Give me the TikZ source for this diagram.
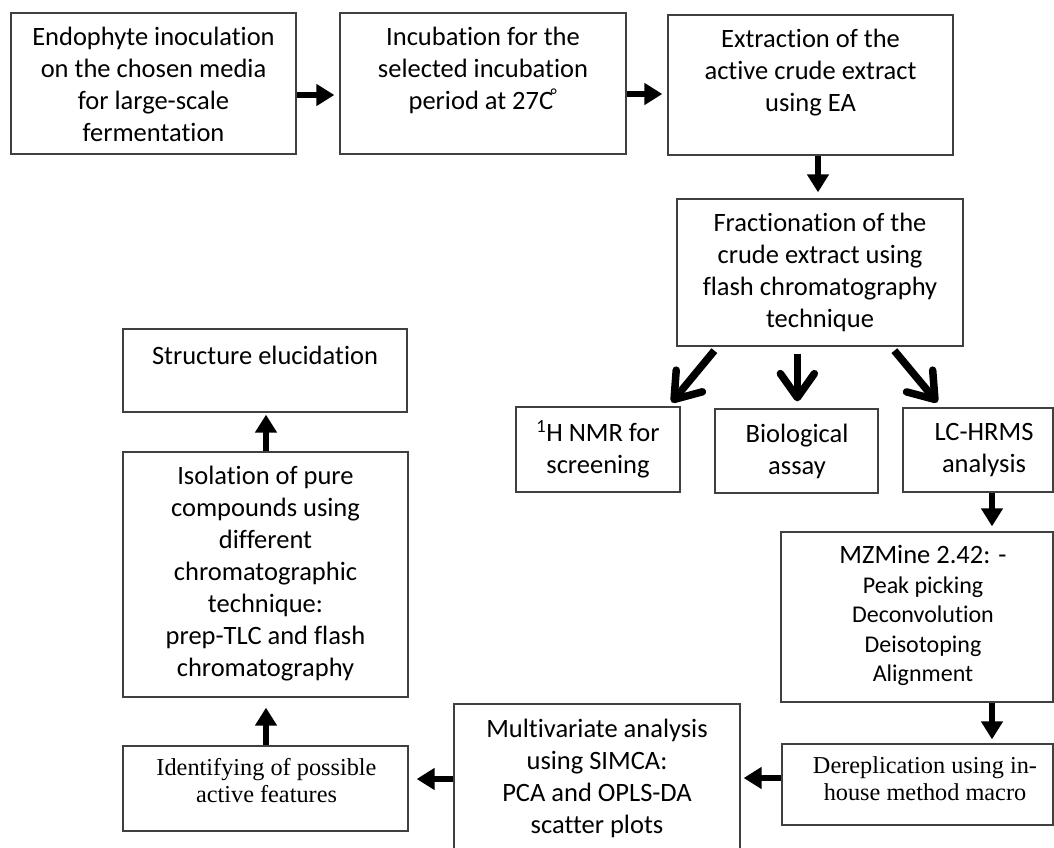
\documentclass[tikz,border=0pt]{standalone}
\usepackage{fontspec}
\setmainfont{Carlito}[Ligatures={NoCommon}]
\newfontfamily\timesfont{Liberation Serif}[Ligatures={NoCommon}]
\usetikzlibrary{arrows.meta,fit,calc}
\begin{document}
\begin{tikzpicture}[x=1pt,y=-1pt,
  box/.style={draw=black!75, line width=1.3pt, inner sep=0pt},
  txt/.style={align=center, inner sep=0pt,
    font=\fontsize{26.5}{32}\selectfont,
    execute at begin node=\strut, execute at end node=\strut},
  smalltxt/.style={txt, font=\fontsize{24}{29.5}\selectfont},
  serif/.style={txt, font=\timesfont\fontsize{24.3}{27}\selectfont},
  blk/.style={line width=6pt, -{Triangle[length=18pt,width=21pt]}},
  fork/.style={line width=7.5pt, -{Straight Barb[length=24pt,width=34pt,round]}}
]
\useasboundingbox (0,0) rectangle (1054,848);
\clip (0,0) rectangle (1054,848);

% process boxes
\node[box, fit={(11,13) (296,154)}] (endo) {};
\node[box, fit={(340,13) (626,154)}] (incub) {};
\node[box, fit={(668,15) (953,155)}] (extr) {};
\node[box, fit={(677,199) (963,346)}] (frac) {};
\node[box, fit={(516,407) (680,492)}] (nmr) {};
\node[box, fit={(715,409) (878,493)}] (bio) {};
\node[box, fit={(903,408) (1053,492)}] (lc) {};
\node[box, fit={(781,532) (1053,702)}] (mz) {};
\node[box, fit={(782,744) (1053,825)}] (derep) {};
\node[box, fit={(454,704) (740,870)}] (multi) {};
\node[box, fit={(123,746) (408,831)}] (ident) {};
\node[box, fit={(123,452) (408,697)}] (isol) {};
\node[box, fit={(123,329) (407,412)}] (struct) {};

% box texts
\node[txt] (endo-t) at (153.5,89) {Endophyte inoculation\\on the chosen media\\for large-scale\\fermentation};
\node[txt] (incub-t) at (483,73) {Incubation for the\\selected incubation\\period at 27C\kern-0.1em\raisebox{-0.05em}{\textsuperscript{°}}};
\node[txt] (extr-t) at (810.5,75) {Extraction of the\\active crude extract\\using EA};
\node[txt] (frac-t) at (820,275) {Fractionation of the\\crude extract using\\flash chromatography\\technique};
\node[txt] (nmr-t) at (598,452) {\textsuperscript{1}H NMR for\\screening};
\node[txt] (bio-t) at (797,454) {Biological\\assay};
\node[txt] (lc-t) at (984,453) {LC-HRMS\\analysis};
\node[smalltxt] (mz-t) at (923,618) {{\fontsize{26.5}{32}\selectfont MZMine 2.42: -}\\Peak picking\\Deconvolution\\Deisotoping\\Alignment};
\node[serif] (derep-t) at (925,783) {Dereplication using in-\\house method macro};
\node[txt] (multi-t) at (597,781) {Multivariate analysis\\using SIMCA:\\PCA and OPLS-DA\\scatter plots};
\node[serif] (ident-t) at (266.5,784) {Identifying of possible\\active features};
\node[txt] (isol-t) at (265.5,576) {Isolation of pure\\compounds using\\different\\chromatographic\\technique:\\prep-TLC and flash\\chromatography};
\node[txt] (struct-t) at (265,358) {Structure elucidation};

% levels of the horizontal and vertical arrows
\coordinate (r1) at (0,95);
\coordinate (r2) at (0,94);
\coordinate (c34) at (818,0);
\coordinate (cr) at (992,0);
\coordinate (r3) at (0,778);
\coordinate (r4) at (0,779);
\coordinate (cl) at (266,0);

% block arrows
\draw[blk, shorten >=5pt] (endo.east |- r1) -- (incub.west |- r1);
\draw[blk, shorten >=5pt] (incub.east |- r2) -- (extr.west |- r2);
\draw[blk, shorten >=6pt] (extr.south -| c34) -- (frac.north -| c34);
\draw[blk, shorten >=5pt] (lc.south -| cr) -- (mz.north -| cr);
\draw[blk, shorten >=4pt] (mz.south -| cr) -- (derep.north -| cr);
\draw[blk, shorten >=3pt] (derep.west |- r3) -- (multi.east |- r3);
\draw[blk, shorten >=8pt] (multi.west |- r4) -- (ident.east |- r4);
\draw[blk, shorten >=10pt] (ident.north -| cl) -- (isol.south -| cl);
\draw[blk, shorten >=2pt] (isol.north -| cl) -- (struct.south -| cl);

% branching arrows below the fractionation step
\draw[fork] ($(frac.south west)+(38,4)$) -- ($(nmr.north east)+(-9,-4)$);
\draw[fork] ($(frac.south west)+(121,7)$) -- ($(bio.north west)+(83,-7)$);
\draw[fork] ($(frac.south west)+(218,4)$) -- ($(lc.north west)+(35,-5)$);
\end{tikzpicture}
\end{document}
